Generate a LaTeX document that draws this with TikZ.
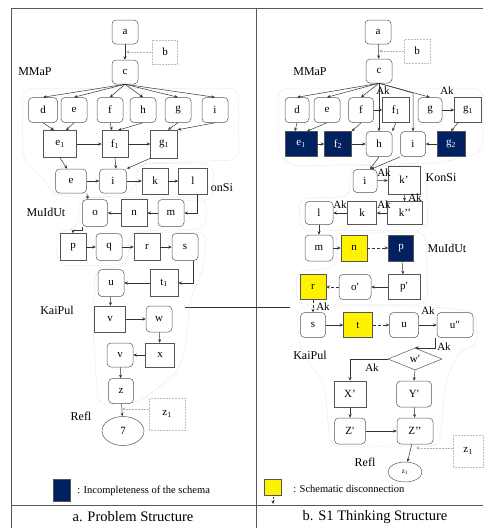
\documentclass[tikz,border=0pt]{standalone}
\usepackage{fontspec}
\setmainfont{Liberation Serif}
\usetikzlibrary{shapes.geometric,arrows.meta}
\definecolor{navy}{RGB}{0,32,96}
\definecolor{boxline}{RGB}{85,85,85}

\begin{document}
\begin{tikzpicture}[x=1pt,y=-1pt,>={Stealth[length=3.5pt,width=3pt]},line width=0.5pt,
  font=\fontsize{11}{13}\selectfont,
  rbox/.style={draw=boxline,fill=white,rounded corners=4pt,minimum width=26pt,minimum height=24pt,inner sep=0pt},
  sbox/.style={draw=boxline,fill=white,minimum width=26pt,minimum height=24pt,inner sep=0pt},
  navybox/.style={sbox,fill=navy,text=white},
  yelbox/.style={sbox,fill=yellow},
  dotbox/.style={draw=gray!50,densely dotted,fill=white,minimum width=26pt,minimum height=24pt,inner sep=0pt},
  region/.style={draw=gray!40,densely dotted,rounded corners=10pt},
  lab/.style={font=\fontsize{12}{14}\selectfont,inner sep=0pt},
  ak/.style={font=\fontsize{11}{12}\selectfont,inner sep=0pt},
  link/.style={->,draw=black!80},
  dlink/.style={->,draw=black!80,densely dashed},
  dotline/.style={->,draw=gray!60,densely dotted}]
  \useasboundingbox (0,0) rectangle (483,528);

  % 表格框线
  \draw[gray!70!black,line width=0.6pt] (11,528) -- (11,8) -- (483,8);
  \draw[gray!70!black,line width=0.6pt] (256,8) -- (256,528);
  \draw[gray!70!black,line width=0.6pt] (11,505) -- (483,505);

  % 虚线区域 (左)
  \draw[region] (22,89) -- (238,88) -- (239,160) -- (140,163) -- (134,192) -- (100,198) -- (55,196) -- (38,172) -- (23,160) -- cycle;
  \draw[region] (136,164) -- (213,163) -- (214,200) -- (136,200) -- cycle;
  \draw[region] (80,197) -- (206,197) -- (206,229) -- (130,231) -- (127,265) -- (58,266) -- (55,232) -- (78,228) -- cycle;
  \draw[region] (131,232) -- (206,232) -- (204,268) -- (190,300) -- (186,345) -- (178,372) -- (140,402) -- (98,405) -- (93,330) -- (95,270) -- (128,266) -- cycle;

  % 虚线区域 (右)
  \draw[region] (278,88) -- (483,88) -- (483,152) -- (440,163) -- (290,166) -- (278,152) -- cycle;
  \draw[region] (350,166) -- (426,165) -- (428,230) -- (300,231) -- (299,198) -- (350,197) -- cycle;
  \draw[region] (336,232) -- (426,232) -- (428,304) -- (330,305) -- (297,304) -- (296,271) -- (336,268) -- cycle;
  \draw[region] (296,306) -- (420,306) -- (476,311) -- (478,345) -- (458,352) -- (445,382) -- (440,446) -- (330,446) -- (325,385) -- (300,350) -- cycle;

  % 左: 题目结构
  \node[rbox] (a) at (125,32) {a};
  \node[dotbox,minimum width=25pt] (b) at (165,52) {b};
  \node[rbox] (c) at (125,72) {c};
  \node[lab] (mmapL) at (35,72) {MMaP};
  \node[rbox,minimum width=29pt,minimum height=25pt] (d) at (43,110) {d};
  \node[rbox,minimum height=25pt] (e) at (74,110) {e};
  \node[rbox,minimum height=25pt] (f) at (110,110) {f};
  \node[rbox,minimum height=25pt] (h) at (143,110) {h};
  \node[rbox,minimum height=25pt] (g) at (178,110) {g};
  \node[rbox,minimum height=25pt] (i) at (215,110) {i};
  \node[sbox,minimum width=33pt,minimum height=27pt] (e1) at (60,144) {e\textsubscript{1}};
  \node[sbox,minimum height=27pt] (f1) at (115,144) {f\textsubscript{1}};
  \node[sbox,minimum width=27pt,minimum height=28pt] (g1) at (164,144) {g\textsubscript{1}};
  \node[rbox,minimum width=31pt] (ee) at (71,181) {e};
  \node[rbox,minimum width=27pt] (ii) at (113,181) {i};
  \node[sbox,minimum height=26pt] (k) at (155,181) {k};
  \node[sbox,minimum width=29pt,minimum height=26pt] (l) at (193,181) {l};
  \node[lab] (konsiL) at (222,188) {onSi};
  \node[lab] (muidutL) at (46,212) {MuIdUt};
  \node[rbox,minimum width=25pt,minimum height=27pt] (o) at (95,213) {o};
  \node[sbox,minimum height=27pt] (n) at (134,213) {n};
  \node[rbox,minimum height=27pt] (m) at (171,213) {m};
  \node[sbox,minimum height=27pt] (p) at (73,247) {p};
  \node[rbox,minimum height=27pt] (q) at (109,247) {q};
  \node[sbox,minimum height=27pt] (r) at (147,247) {r};
  \node[rbox,minimum height=27pt] (s) at (185,247) {s};
  \node[rbox,minimum height=27pt] (u) at (111,283) {u};
  \node[sbox,minimum width=28pt,minimum height=27pt] (t1) at (164,283) {t\textsubscript{1}};
  \node[lab] (kaipulL) at (57,310) {KaiPul};
  \node[sbox,minimum width=31pt,minimum height=26pt] (v) at (110,319) {v};
  \node[rbox,minimum height=26pt] (w) at (159,319) {w};
  \node[rbox] (vv) at (120,355) {v};
  \node[sbox,minimum width=29pt] (x) at (160,355) {x};
  \node[rbox,minimum width=25pt,minimum height=25pt] (z) at (121,391) {z};
  \node[dotbox,minimum width=36pt,minimum height=32pt] (z1) at (167,414) {z\textsubscript{1}};
  \node[lab] (reflL) at (81,416) {Refl};
  \node[ellipse,draw=boxline,minimum width=42pt,minimum height=29pt,inner sep=0pt] (sevenL) at (123,431) {7};
  \coordinate (bTip) at (126,52);
  \coordinate (zTip) at (122,409);

  \draw[link] (a) -- (c);
  \draw[dotline] (b.west) -- (bTip);
  \foreach \t in {d,e,f,h,g,i} \draw[link] (c.south) -- (\t.north);
  \draw[link] (d.south) -- ([xshift=-6pt]e1.north);
  \draw[link] (e.south) -- ([xshift=6pt]e1.north);
  \draw[link] (f.south) -- ([xshift=-3pt]f1.north);
  \draw[link] (h.south) -- ([xshift=3pt]f1.north);
  \draw[link] (g.south) -- ([xshift=4pt]g1.north);
  \draw[link] (i.south) -- (g1.north east);
  \draw[link] (e1) -- (f1);
  \draw[link] (f1) -- (g1);
  \draw[link] (e1.south) -- ([xshift=-4pt]ee.north);
  \draw[link] (f1.south) -- ([xshift=3pt]ii.north);
  \draw[link] (g1.south west) -- (ii.north east);
  \draw[link] (ee) -- (ii);
  \draw[link] (ii) -- (k);
  \draw[link] (k) -- (l);
  \draw[link] ([xshift=4pt]l.south) |- (m.east);
  \draw[link] (m) -- (n);
  \draw[link] (n) -- (o);
  \draw[link] (ee.south east) -- ([xshift=-7pt]o.north);
  \draw[link] (o.south west) -- ++(0,3) -| (p.north);
  \draw[link] (p) -- (q);
  \draw[link] (q) -- (r);
  \draw[link] (r) -- (s);
  \draw[link] ([xshift=8pt]s.south) |- (t1.east);
  \draw[link] (t1) -- (u);
  \draw[link] (u) -- (v);
  \draw[link] (v) -- (w);
  \draw[link] (w) -- (x);
  \draw[link] (x) -- (vv);
  \draw[link] (vv) -- (z);
  \draw[link] (z) -- (sevenL);
  \draw[dotline] ([yshift=5pt]z1.west) -- (zTip);

  % 两栏之间的连线
  \coordinate (crossL) at (185,307);
  \coordinate (crossR) at (290,307);
  \draw[black!80] (crossL) -- (crossR);

  % 右: S1 思维结构
  \node[rbox] (aR) at (378,32) {a};
  \node[dotbox] (bR) at (417,51) {b};
  \node[rbox] (cR) at (379,71) {c};
  \node[lab] (mmapR) at (310,72) {MMaP};
  \node[rbox,minimum width=24pt,minimum height=25pt] (dR) at (297,110) {d};
  \node[rbox,minimum height=25pt] (eR) at (327,110) {e};
  \node[rbox,minimum width=25pt,minimum height=25pt] (fR) at (361,110) {f};
  \node[sbox,minimum width=27pt,minimum height=25pt] (f1R) at (396,110) {f\textsubscript{1}};
  \node[rbox,minimum width=24pt,minimum height=25pt] (gR) at (430,110) {g};
  \node[sbox,minimum width=27pt,minimum height=25pt] (g1R) at (468,110) {g\textsubscript{1}};
  \node[navybox,minimum width=32pt,minimum height=25pt] (e1R) at (301,144) {e\textsubscript{1}};
  \node[navybox,minimum width=27pt,minimum height=25pt] (f2R) at (338,144) {f\textsubscript{2}};
  \node[rbox,minimum height=25pt] (hR) at (379,144) {h};
  \node[rbox,minimum width=25pt,minimum height=25pt] (iR) at (413,144) {i};
  \node[navybox,minimum width=28pt,minimum height=25pt] (g2R) at (451,144) {g\textsubscript{2}};
  \node[ak] (akC1) at (383,91) {Ak};
  \node[ak] (akC2) at (447,91) {Ak};
  \coordinate (iTop) at (413,93);

  \node[rbox,minimum width=24pt,minimum height=23pt] (jR) at (365,181) {i};
  \node[sbox,minimum width=32pt,minimum height=28pt] (kpR) at (404,180) {k’};
  \node[lab] (konsiR) at (441,178) {KonSi};
  \node[rbox,minimum width=28pt,minimum height=23pt] (lR) at (319,213) {l};
  \node[sbox,minimum width=29pt,minimum height=23pt] (kR) at (362,213) {k};
  \node[sbox,minimum width=35pt,minimum height=23pt] (kppR) at (405,213) {k’’};
  \node[rbox,minimum width=28pt,minimum height=26pt] (mR) at (319,248) {m};
  \node[yelbox,minimum height=26pt] (nR) at (354,248) {n};
  \node[navybox,minimum width=25pt,minimum height=26pt] (pR) at (401,248) {p};
  \node[lab] (muidutR) at (447,248) {MuIdUt};
  \node[yelbox,minimum height=25pt] (rR) at (313,287) {r};
  \node[rbox,minimum width=32pt,minimum height=25pt] (opR) at (355,287) {o′};
  \node[sbox,minimum width=32pt,minimum height=25pt] (ppR) at (404,287) {p′};
  \node[rbox,minimum width=25pt,minimum height=25pt] (sR) at (313,325) {s};
  \node[yelbox,minimum width=29pt,minimum height=25pt] (tR) at (358,325) {t};
  \node[rbox,minimum width=29pt,minimum height=25pt] (uR) at (404,325) {u};
  \node[rbox,minimum width=36pt,minimum height=25pt] (uppR) at (455,325) {u″};
  \node[lab] (kaipulR) at (310,355) {KaiPul};
  \node[diamond,draw=boxline,fill=white,aspect=2.4,minimum width=54pt,minimum height=22pt,inner sep=0pt] (wpR) at (415,359) {w′};
  \node[sbox,minimum width=32pt,minimum height=26pt] (xpR) at (350,394) {X’};
  \node[rbox,minimum width=35pt,minimum height=26pt] (ypR) at (414,394) {Y′};
  \node[rbox,minimum width=31pt,minimum height=26pt] (zpR) at (350,431) {Z′};
  \node[rbox,minimum width=36pt,minimum height=26pt] (zppR) at (415,431) {Z’’};
  \node[dotbox,minimum width=30pt,minimum height=32pt] (z1R) at (468,451) {z\textsubscript{1}};
  \node[lab] (reflR) at (365,462) {Refl};
  \node[ellipse,draw=boxline,fill=white,minimum width=34pt,minimum height=20pt,inner sep=0pt,font=\fontsize{7}{8}\selectfont] (sevenR) at (405,472) {z\textsubscript{1}};
  \coordinate (bTipR) at (379,51);
  \coordinate (zTipR) at (416,448);

  \draw[link] (aR) -- (cR);
  \draw[dotline] (bR.west) -- (bTipR);
  \foreach \t in {dR,eR,fR,gR} \draw[link] (cR.south) -- (\t.north);
  \draw[link] (cR.south) -- (hR.north);
  \draw[link] (cR.south) -- (iTop) -- (iR.north);
  \draw[link] (fR) -- (f1R);
  \draw[link] (gR) -- (g1R);
  \draw[link] (dR.south) -- ([xshift=-6pt]e1R.north);
  \draw[link] (eR.south) -- ([xshift=6pt]e1R.north);
  \draw[link] (fR.south) -- (f2R.north east);
  \draw[link] (f1R.south) -- (hR.north east);
  \draw[link] (e1R) -- (f2R);
  \draw[link] (f2R) -- (hR);
  \draw[link] (g2R) -- (iR);
  \draw[link] ([xshift=-10pt]g1R.south) -- (g2R.north);
  \draw[link] (hR.south) -- ([xshift=5pt]jR.north);
  \draw[link] (iR.south west) -- ([xshift=6pt]jR.north);
  \draw[link] (jR) -- (kpR);
  \node[ak] (akJ) at (384,173) {Ak};
  \draw[link] (kpR) -- (kppR);
  \node[ak] (akK1) at (415,198) {Ak};
  \draw[link] (kppR) -- (kR);
  \node[ak] (akK2) at (384,205) {Ak};
  \draw[link] (kR) -- (lR);
  \node[ak] (akK3) at (340,205) {Ak};
  \draw[link] (lR) -- (mR);
  \draw[link] (mR) -- (nR);
  \draw[dlink] (nR) -- (pR);
  \draw[link] (pR) -- (ppR);
  \draw[link] (ppR) -- (opR);
  \draw[dlink] (opR) -- (rR);
  \draw[dlink] (rR) -- (sR);
  \node[ak] (akR) at (323,307) {Ak};
  \draw[link] (sR) -- (tR);
  \draw[dlink] (tR) -- (uR);
  \draw[link] (uR) -- (uppR);
  \node[ak] (akU) at (428,311) {Ak};
  \draw[link] ([xshift=-20pt]uppR.south) |- (wpR.north);
  \node[ak] (akW1) at (444,347) {Ak};
  \draw[link] (wpR.west) -| (xpR.north);
  \node[ak] (akW2) at (372,368) {Ak};
  \draw[link] (wpR.south) -- (ypR.north);
  \draw[link] (xpR) -- (zpR);
  \draw[link] (ypR) -- (zppR);
  \draw[link] (zpR) -- (zppR);
  \draw[link] (zppR) -- (sevenR);
  \draw[dotline] ([yshift=3pt]z1R.west) -- (zTipR);

  % 图例与标题
  \node[navybox,minimum width=17pt,minimum height=22pt] (keyNavy) at (62,490) {};
  \node[anchor=west,inner sep=0pt,font=\fontsize{10.5}{12}\selectfont] (keyNavyTxt) at (77,491) {: Incompleteness of the schema};
  \node[yelbox,minimum width=17pt,minimum height=16pt] (keyYel) at (273,487) {};
  \coordinate (keyArrow) at (273,504);
  \draw[->,densely dotted,black!80] (keyYel.south) -- (keyArrow);
  \node[anchor=west,inner sep=0pt,font=\fontsize{10.5}{12}\selectfont] (keyYelTxt) at (293,489) {: Schematic disconnection};
  \node[font=\fontsize{14.5}{16}\selectfont] (capA) at (133,517) {a. Problem Structure};
  \node[font=\fontsize{14.5}{16}\selectfont] (capB) at (375,517) {b. S1 Thinking Structure};
\end{tikzpicture}
\end{document}
